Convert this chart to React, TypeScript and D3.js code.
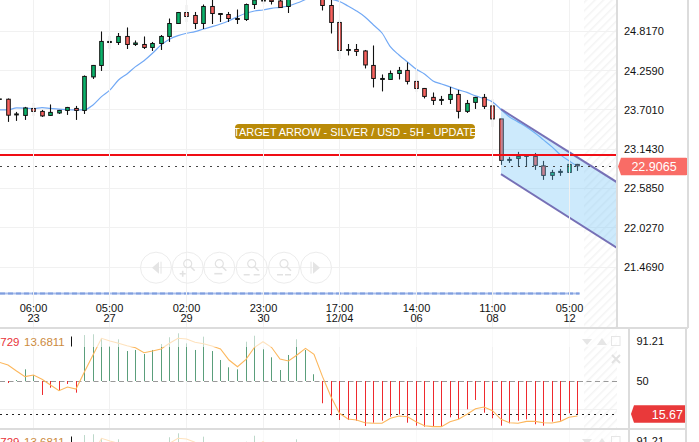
import { useRef, useEffect } from 'react';
import * as d3 from 'd3';

const opens = [23.85, 23.853, 23.63, 23.623, 23.722, 23.68, 23.623, 23.658, 23.694, 23.722, 23.694, 24.17, 24.333, 24.659, 24.659, 24.745, 24.631, 24.631, 24.589, 24.645, 24.745, 24.929, 25.085, 25.043, 24.929, 25.171, 25.057, 25.057, 24.986, 24.986, 25.199, 25.249, 25.263, 25.249, 25.171, 25.348, 25.405, 25.462, 25.32, 25.185, 24.944, 24.546, 24.56, 24.539, 24.333, 24.134, 24.134, 24.219, 24.262, 24.106, 24.006, 23.879, 23.836, 23.85, 23.921, 23.68, 23.808, 23.879, 23.758, 23.573, 22.984, 23.012, 23.041, 23.041, 22.906, 22.771, 22.813, 22.813, 22.927];
const closes = [23.857, 23.626, 23.644, 23.729, 23.68, 23.616, 23.666, 23.694, 23.736, 23.694, 24.177, 24.333, 24.674, 24.674, 24.745, 24.631, 24.652, 24.589, 24.645, 24.745, 24.929, 25.085, 25.029, 24.929, 25.171, 25.071, 25.071, 25.0, 25.0, 25.199, 25.263, 25.263, 25.242, 25.156, 25.348, 25.405, 25.462, 25.32, 25.185, 24.944, 24.546, 24.56, 24.532, 24.34, 24.148, 24.148, 24.219, 24.262, 24.106, 24.006, 23.893, 23.836, 23.85, 23.921, 23.68, 23.793, 23.879, 23.751, 23.573, 22.984, 22.998, 23.041, 23.048, 22.913, 22.771, 22.813, 22.828, 22.927, 22.9065];
const highs = [23.864, 23.864, 23.673, 23.744, 23.8, 23.701, 23.779, 23.701, 23.744, 23.758, 24.191, 24.34, 24.816, 24.752, 24.794, 24.873, 24.688, 24.745, 24.667, 24.766, 25.0, 25.093, 25.199, 25.093, 25.199, 25.263, 25.078, 25.093, 25.128, 25.213, 25.306, 25.334, 25.306, 25.291, 25.377, 25.462, 25.519, 25.519, 25.362, 25.277, 24.986, 24.638, 24.638, 24.553, 24.617, 24.205, 24.262, 24.312, 24.376, 24.276, 24.013, 23.949, 23.9, 24.028, 23.985, 23.843, 23.886, 23.928, 23.857, 23.573, 23.034, 23.105, 23.048, 23.09, 22.977, 22.849, 22.863, 22.991, 22.934];
const lows = [23.843, 23.531, 23.545, 23.559, 23.616, 23.602, 23.616, 23.644, 23.63, 23.559, 23.644, 24.141, 24.255, 24.567, 24.624, 24.567, 24.61, 24.567, 24.539, 24.553, 24.667, 24.922, 24.951, 24.851, 24.851, 24.922, 24.951, 24.951, 24.922, 24.965, 25.135, 25.206, 25.199, 25.149, 25.078, 25.306, 25.348, 25.291, 25.114, 24.787, 24.418, 24.475, 24.468, 24.29, 24.02, 23.964, 24.134, 24.134, 24.063, 23.95, 23.864, 23.772, 23.772, 23.786, 23.58, 23.658, 23.715, 23.715, 23.46, 22.92, 22.948, 22.892, 22.892, 22.849, 22.707, 22.707, 22.764, 22.806, 22.835];
const maValues = [23.701, 23.701, 23.729, 23.727, 23.719, 23.734, 23.722, 23.711, 23.705, 23.701, 23.701, 23.772, 23.89, 23.985, 24.127, 24.212, 24.316, 24.401, 24.506, 24.624, 24.705, 24.756, 24.79, 24.813, 24.851, 24.884, 24.922, 24.969, 25.026, 25.074, 25.107, 25.121, 25.145, 25.159, 25.178, 25.22, 25.27, 25.32, 25.306, 25.277, 25.242, 25.178, 25.107, 25.022, 24.908, 24.794, 24.596, 24.482, 24.383, 24.283, 24.212, 24.113, 24.07, 24.028, 23.985, 23.95, 23.9, 23.864, 23.815, 23.708, 23.602, 23.531, 23.46, 23.374, 23.275, 23.176, 23.062, 22.977, 22.899];
const kValues = [50, 47.9, 51, 62.1, 56.2, 35.5, 43, 39.9, 46.9, 37.9, 97.7, 98.5, 94.3, 86.3, 93.3, 81.1, 82.2, 78, 82.2, 88.4, 95.4, 99.5, 89.1, 82.2, 96, 81.1, 71.8, 64.2, 62.1, 90.8, 97, 82.9, 74.6, 61.4, 77, 93.3, 82.2, 57, 26.9, 14.4, 9.5, 9.5, 8.8, 3.3, 6.7, 8.8, 12.9, 15.4, 6.7, 3.6, 2.6, 2.6, 2.6, 12.3, 10.6, 20.6, 30.3, 17.1, 11.3, 3.6, 6.1, 8.8, 10.2, 5.1, 3.6, 7.8, 8.8, 16.5, 15.67];
const dValues = [69.4, 66.6, 60.4, 54.5, 56.2, 51.8, 45.8, 39.9, 43.8, 41.7, 59.7, 77, 94.3, 91.5, 89.1, 86.6, 84.6, 79.4, 81.1, 83.2, 89.1, 94.3, 93.6, 90.2, 88.7, 86.3, 83.2, 71.8, 64.8, 72.5, 85, 90.8, 85, 72.8, 70.8, 77, 83.9, 77.7, 54.5, 33.7, 16.5, 10.6, 9.5, 6.7, 6.1, 6.1, 11.3, 13.7, 12.9, 7.8, 3.6, 2.6, 2.6, 7.8, 10.2, 15.4, 21.2, 23, 19.2, 10.2, 6.7, 6.1, 8.1, 8.1, 6.7, 6.4, 8.1, 12.3, 13.68];

const priceTicks = ['24.8170', '24.2590', '23.7010', '23.1430', '22.5850', '22.0270', '21.4690'];
const timeTickIndex = [4, 13, 22, 31, 40, 49, 58, 67];
const timeTickTop = ['06:00', '05:00', '02:00', '23:00', '17:00', '14:00', '11:00', '05:00'];
const timeTickBottom = ['23', '27', '29', '30', '12/04', '06', '08', '12'];

const channelUpper: [number, number][] = [[59, 23.711], [72.7, 22.669]];
const channelLower: [number, number][] = [[59, 22.788], [72.7, 21.737]];
const resistance = 23.0575;
const lastPrice = 22.9065;
const annotation = 'TARGET ARROW - SILVER / USD - 5H - UPDATE';

const FONT = '"Liberation Sans", Arial, sans-serif';
const GREEN = '#0bb36b';
const RED = '#f8625e';
const GRID = '#f1f1f1';
const FRAME = '#dcdcdc';

export default function App() {
  const svgRef = useRef<SVGSVGElement>(null);

  useEffect(() => {
    if (!svgRef.current) return;
    const svg = d3.select(svgRef.current);
    svg.selectAll('*').remove();

    const plotRight = 617;
    const x = d3.scaleLinear().domain([0, 68]).range([-0.5, 577.5]);
    const cx = (i: number) => Math.floor(x(i)) + 0.5;
    const y = d3.scaleLinear().domain([25.263, 21.469]).range([0, 267]);
    const yInd = d3.scaleLinear().domain([91.21, 50]).range([341.3, 381]);
    const crisp = (v: number) => Math.floor(v) + 0.5;

    const defs = svg.append('defs');
    const hatch = defs
      .append('pattern')
      .attr('id', 'hatch')
      .attr('width', 6)
      .attr('height', 6)
      .attr('patternUnits', 'userSpaceOnUse')
      .attr('patternTransform', 'rotate(45)');
    hatch.append('line').attr('x1', 0).attr('x2', 0).attr('y1', 0).attr('y2', 6).attr('stroke', '#f4f4f4').attr('stroke-width', 3);
    defs.append('clipPath').attr('id', 'mainClip').append('rect').attr('x', 0).attr('y', 0).attr('width', plotRight).attr('height', 327);
    defs.append('clipPath').attr('id', 'panelClip').append('rect').attr('x', 0).attr('y', 329).attr('width', 629).attr('height', 99);
    defs.append('clipPath').attr('id', 'panel3Clip').append('rect').attr('x', 0).attr('y', 430).attr('width', 629).attr('height', 12);

    svg.append('rect').attr('width', 699).attr('height', 442).attr('fill', '#fff');

    // hatched future zone
    svg.append('rect').attr('x', 584).attr('y', 0).attr('width', plotRight - 584).attr('height', 327).attr('fill', 'url(#hatch)');

    const main = svg.append('g').attr('clip-path', 'url(#mainClip)');

    // Grid
    priceTicks.forEach((t) => {
      main.append('line').attr('x1', 0).attr('x2', plotRight).attr('y1', crisp(y(+t))).attr('y2', crisp(y(+t))).attr('stroke', GRID);
    });
    timeTickIndex.forEach((i) => {
      svg.append('line').attr('x1', cx(i)).attr('x2', cx(i)).attr('y1', 0).attr('y2', 327).attr('stroke', GRID);
    });

    // Volume strip
    main.append('line').attr('x1', 0).attr('x2', cx(68) + 2).attr('y1', 293.5).attr('y2', 293.5).attr('stroke', '#a9bfee').attr('stroke-width', 2);
    main.append('line').attr('x1', 0).attr('x2', cx(68) + 2).attr('y1', 293.5).attr('y2', 293.5).attr('stroke', '#7f9ede').attr('stroke-width', 2).attr('stroke-dasharray', '5,3');

    // Nav buttons
    const nav = svg.append('g').attr('fill', 'none').attr('stroke', '#ececec');
    const navX = [156, 187.7, 219.3, 251.7, 284, 316];
    navX.forEach((bx, k) => {
      const b = nav.append('g').attr('transform', `translate(${bx},267.7)`);
      b.append('circle').attr('r', 15.5).attr('stroke-width', 1);
      if (k === 0) {
        b.append('path').attr('d', 'M3,-6L-4,0L3,6Z').attr('fill', '#e4e4e4').attr('stroke', 'none');
        b.append('line').attr('x1', 5).attr('x2', 5).attr('y1', -6).attr('y2', 6).attr('stroke', '#e4e4e4');
      } else if (k === 5) {
        b.append('path').attr('d', 'M-3,-6L4,0L-3,6Z').attr('fill', '#e4e4e4').attr('stroke', 'none');
        b.append('line').attr('x1', -5).attr('x2', -5).attr('y1', -6).attr('y2', 6).attr('stroke', '#e4e4e4');
      } else {
        b.append('circle').attr('cx', 0).attr('cy', -4).attr('r', 4).attr('stroke', '#e2e2e2').attr('stroke-width', 1.2);
        b.append('line').attr('x1', 3).attr('y1', -1).attr('x2', 7).attr('y2', 3).attr('stroke', '#e2e2e2').attr('stroke-width', 1.6);
        const mark = ['', 'M-8,6H-2M-5,3V9', 'M-5,6H3', 'M-8,7H-2M8,7H2', 'M-7,7H-1M7,7H1'][k];
        b.append('path').attr('d', mark).attr('stroke', '#e2e2e2').attr('stroke-width', 1.6);
      }
    });

    // Moving average
    const maLine = d3.line<number>().x((_d, i) => x(i)).y((d) => y(d)).curve(d3.curveMonotoneX);
    main.append('path').attr('d', maLine(maValues)).attr('fill', 'none').attr('stroke', '#72a9f5').attr('stroke-width', 1.2);

    // Candles
    const candles = main.selectAll('g.candle').data(opens).join('g').attr('class', 'candle');
    candles
      .append('line')
      .attr('x1', (_d, i) => cx(i))
      .attr('x2', (_d, i) => cx(i))
      .attr('y1', (_d, i) => y(highs[i]))
      .attr('y2', (_d, i) => y(lows[i]))
      .attr('stroke', '#111')
      .attr('stroke-width', 1.1);
    candles
      .append('rect')
      .attr('x', (_d, i) => cx(i) - 1.8)
      .attr('width', 3.6)
      .attr('y', (d, i) => y(Math.max(d, closes[i])))
      .attr('height', (d, i) => Math.abs(y(d) - y(closes[i])))
      .attr('fill', (d, i) => (closes[i] >= d ? GREEN : RED))
      .attr('stroke', '#111')
      .attr('stroke-width', 1);

    // Channel
    const area = d3
      .area<number>()
      .x((i) => x(channelUpper[i][0]))
      .y0((i) => y(channelLower[i][1]))
      .y1((i) => y(channelUpper[i][1]));
    main.append('path').attr('d', area([0, 1])).attr('fill', '#6cc0f5').attr('fill-opacity', 0.34);
    [channelUpper, channelLower].forEach((c) => {
      main
        .append('line')
        .attr('x1', x(c[0][0]))
        .attr('y1', y(c[0][1]))
        .attr('x2', x(c[1][0]))
        .attr('y2', y(c[1][1]))
        .attr('stroke', '#7670b6')
        .attr('stroke-width', 2);
    });

    // Price lines
    main.append('line').attr('x1', 0).attr('x2', plotRight).attr('y1', Math.round(y(resistance))).attr('y2', Math.round(y(resistance))).attr('stroke', '#f00d14').attr('stroke-width', 2);
    main.append('line').attr('x1', 0).attr('x2', plotRight).attr('y1', crisp(y(lastPrice) + 0.7)).attr('y2', crisp(y(lastPrice) + 0.7)).attr('stroke', '#444').attr('stroke-dasharray', '2,5');

    // Annotation
    svg.append('rect').attr('x', 235).attr('y', 124).attr('width', 240).attr('height', 15).attr('rx', 4).attr('fill', '#b98a08');
    svg
      .append('text')
      .attr('x', 355)
      .attr('y', 135.5)
      .attr('text-anchor', 'middle')
      .attr('font-family', FONT)
      .attr('font-size', 10.9)
      .attr('fill', '#fff')
      .text(annotation);

    // Frames
    const frame = (x1: number, y1: number, x2: number, y2: number) =>
      svg.append('line').attr('x1', x1).attr('y1', y1).attr('x2', x2).attr('y2', y2).attr('stroke', FRAME).attr('stroke-width', 2);

    // Time axis
    timeTickIndex.forEach((i, k) => {
      [timeTickTop[k], timeTickBottom[k]].forEach((label, line) => {
        svg
          .append('text')
          .attr('x', cx(i))
          .attr('y', 312 + line * 10)
          .attr('text-anchor', 'middle')
          .attr('font-family', FONT)
          .attr('font-size', 11)
          .attr('fill', '#111')
          .text(label);
      });
    });

    // Price axis
    priceTicks.forEach((t) => {
      svg
        .append('text')
        .attr('x', 624)
        .attr('y', y(+t) + 4)
        .attr('font-family', FONT)
        .attr('font-size', 11)
        .attr('fill', '#111')
        .text(t);
    });
    const ly = y(lastPrice) + 0.7;
    svg
      .append('path')
      .attr('d', `M621,${ly - 8.8}H686a2,2 0 0 1 2,2V${ly + 6.8}a2,2 0 0 1 -2,2H621L618,${ly}Z`)
      .attr('fill', '#f96c66');
    svg
      .append('text')
      .attr('x', 654)
      .attr('y', ly + 4.5)
      .attr('text-anchor', 'middle')
      .attr('font-family', FONT)
      .attr('font-size', 12.5)
      .attr('fill', '#fff')
      .text(lastPrice.toFixed(4));

    // Indicator panels: same pane twice, the second is cut by the window
    const drawPanel = (clip: string, dy: number) => {
      const wrap = svg.append('g').attr('clip-path', `url(#${clip})`);
      const g = wrap.append('g').attr('transform', `translate(0,${dy})`);
      g.append('rect').attr('x', 584).attr('y', 329).attr('width', 33).attr('height', 99).attr('fill', 'url(#hatch)');
      timeTickIndex.forEach((i) => {
        g.append('line').attr('x1', cx(i)).attr('x2', cx(i)).attr('y1', 329).attr('y2', 428).attr('stroke', GRID);
      });
      g.append('line').attr('x1', 0).attr('x2', 617).attr('y1', crisp(yInd(20))).attr('y2', crisp(yInd(20))).attr('stroke', GRID);
      g.append('line').attr('x1', 0).attr('x2', 617).attr('y1', crisp(yInd(50))).attr('y2', crisp(yInd(50))).attr('stroke', '#999').attr('stroke-dasharray', '5,3.5');
      g.append('line')
        .attr('x1', 0)
        .attr('x2', 617)
        .attr('y1', crisp(yInd(kValues[68])))
        .attr('y2', crisp(yInd(kValues[68])))
        .attr('stroke', '#222')
        .attr('stroke-dasharray', '2,4');
      g.selectAll('line.bar')
        .data(kValues)
        .join('line')
        .attr('class', 'bar')
        .attr('x1', (_d, i) => cx(i))
        .attr('x2', (_d, i) => cx(i))
        .attr('y1', yInd(50))
        .attr('y2', (d) => yInd(d))
        .attr('stroke', (d) => (d >= 50 ? '#5a9e7b' : '#ee2a2e'))
        .attr('stroke-width', 1);
      const dLine = d3.line<number>().x((_d, i) => x(i)).y((d) => yInd(d));
      g.append('path').attr('d', dLine(dValues)).attr('fill', 'none').attr('stroke', '#fcb75c').attr('stroke-width', 1.1);
      // legend veil
      g.append('rect').attr('x', 0).attr('y', 329).attr('width', 617).attr('height', 18).attr('fill', '#fff').attr('fill-opacity', 0.6);
      g.append('text').attr('x', 19.5).attr('y', 345.5).attr('text-anchor', 'end').attr('font-family', FONT).attr('font-size', 11.5).attr('fill', '#e8333a').text('15.6729');
      g.append('text').attr('x', 24).attr('y', 345.5).attr('font-family', FONT).attr('font-size', 11.5).attr('fill', '#cc8a3c').text('13.6811');
      g.append('line').attr('x1', 71.5).attr('x2', 71.5).attr('y1', 336.5).attr('y2', 346.5).attr('stroke', '#111');
      // pane buttons
      const icons = g.append('g').attr('fill', '#e6e6e6').attr('stroke', 'none');
      icons.append('path').attr('d', 'M582,339H592L587,345Z');
      icons.append('path').attr('d', 'M597,345L602,338L607,345Z');
      icons.append('rect').attr('x', 611.5).attr('y', 336.5).attr('width', 8.5).attr('height', 9).attr('fill', 'none').attr('stroke', '#e6e6e6');
      icons.append('path').attr('d', 'M612,355L620,363M620,355L612,363').attr('stroke', '#e2e2e2').attr('stroke-width', 2);
    };
    drawPanel('panelClip', 0);
    drawPanel('panel3Clip', 100);

    // Indicator axis
    ['91.21', '50'].forEach((t) => {
      svg.append('text').attr('x', 636.5).attr('y', yInd(+t) + 4).attr('font-family', FONT).attr('font-size', 11).attr('fill', '#111').text(t);
    });
    svg.append('text').attr('x', 636.5).attr('y', yInd(91.21) + 104).attr('font-family', FONT).attr('font-size', 11).attr('fill', '#111').text('91.21');
    svg
      .append('path')
      .attr('d', 'M634,405.3H686V422.7H634L631,414Z')
      .attr('fill', '#e9393a');
    svg
      .append('text')
      .attr('x', 683)
      .attr('y', 418.5)
      .attr('text-anchor', 'end')
      .attr('font-family', FONT)
      .attr('font-size', 12.5)
      .attr('fill', '#fff')
      .text(kValues[68].toFixed(2));

    frame(617, 0, 617, 328);
    frame(688, 0, 688, 328);
    frame(0, 328, 688, 328);
    frame(0, 429, 687, 429);
    frame(629, 328, 629, 442);
    frame(686, 328, 686, 442);
  }, []);

  return <svg ref={svgRef} width={699} height={442} style={{ position: 'absolute', left: 0, top: 0 }} />;
}
